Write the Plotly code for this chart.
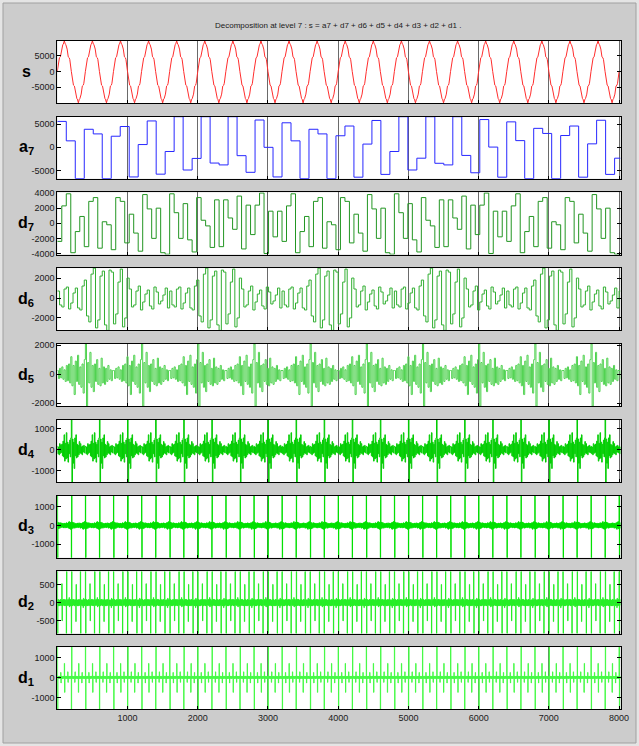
import plotly.graph_objects as go

W, H = 639, 746
X_END = 8020

# ---------------- data ----------------
# s : the same wave shape repeats every 400 samples (offset within period, value)
S_PERIOD_STARTS = [0, 400, 800, 1200, 1600, 2000, 2400, 2800, 3200, 3600, 4000,
                   4400, 4800, 5200, 5600, 6000, 6400, 6800, 7200, 7600, 8000]
S_SHAPE_OFFSET = [0, 22, 30, 44, 60, 78, 86, 100, 114, 122, 140, 156, 170, 178,
                  200, 222, 230, 244, 260, 278, 286, 300, 314, 322, 340, 356, 370, 378]
S_SHAPE_VALUE = [0, 3800, 4400, 4700, 7200, 8600, 8800, 9850, 8800, 8600, 7200, 4700, 4400, 3800,
                 0, -3800, -4400, -4700, -7300, -8700, -8900, -10100, -8900, -8700, -7300, -4700,
                 -4400, -3800]

# a7 : one value per 128-sample block
A7 = [5600, 1400, -6750, 3900, 2900, -6750, 2400, 4500, -6400, 600,
      5700, -5800, -900, 6620, -4900, -2400, 6620, -3400, -3800, 6620,
      -1800, -5400, 5900, 0, -6400,
      5300, 1400, -6750, 3900, 2900, -6750, 2500, 4600, -6450, 700,
      5800, -5850, -900, 6620, -4900, -2350, 6620, -3450, -3800, 6620,
      -1750, -5500, 6000, 50, -6450,
      5500, 1450, -6750, 4100, 3000, -6750, 2550, 4600, -6450, 750,
      5850, -5850, -2350]

# d7 : one value per 64 samples
D7 = [-2400, 2300, 3900, -3900, -1100, 900, -3100, 2900, 3400, -3300,
      200, -200, -3500, 3400, 2900, -2600, 1200, -1300, -3700, 3800,
      1900, -2000, 2000, -3900, -4100, 3900, 1400, -2000, 2600, -2200,
      -3800, 3400, 400, -350, -3200, 3100, -3100, 3100, 700, -800,
      3600, -3400, 2400, -1500, 2400, 4000, -4000, 1600, -1800, 1600,
      -2400, 2300, 3900, -3900, -1100, 900, -3100, 2900, 3400, -3300,
      200, -200, -3500, 3400, 2900, -2600, 1200, -1300, -3700, 3800,
      1900, -2000, 2000, -3900, -4100, 3900, 1400, -2000, 2600, -2200,
      -3800, 3400, 400, -350, -3200, 3100, -3100, 3100, 700, -800,
      3600, -3400, 2400, -1500, 2400, 4000, -4000, 1600, -1800, 1600,
      -2400, 2300, 3900, -3900, -1100, 900, -3100, 2900, 3400, -3300,
      200, -200, -3500, 3400, 2900, -2600, 1200, -1300, -3700, 3800,
      1900, -2000, 2000, -3900, -4100]

# d6 : one repeat (1600 samples), one value per 32 samples
D6_PERIOD = [700, -700, -900, 900, 1100, -1100, -500, 500, 1000, -1000, -1200, 1200,
             1800, -1800, -2400, 2400, 3000, -3000, -2200, 2200, 2700, -2700, -3250, 2800,
             2600, -2600, -1600, 1600, 2900, -2900, -2000, 2000,
             900, -900, -700, 700, 1200, -1200, -400, 400, 800, -800, -1100, 1100,
             600, -600, -300, 300, 1000, -1000]

# d5 : one repeat (800 samples), one value per 16 samples
D5_PERIOD = [250, -300, 400, -250, 500, -350, 300, -500, 600, -450,
             700, -600, 1200, -800, 600, -1400, 900, -500, 1300, -700,
             500, -900, 700, -1300, 1000,
             2080, -2200,
             800, -600, 1500, -900, 600, -1200, 700, -500, 1000, -700,
             400, -800, 1100, -600, 500, -700, 400, -500, 600, -350, 300, -450, 250]

# d4 : one repeat (400 samples), one value per 8 samples
D4_PERIOD = [150, -200, 120, -250, 280, -180, 220, -140, 260, -300,
             400, -350, 700, -550, 300, -450, 800, -400, 350, -600,
             250, -200, 450, -350, 550,
             1415, -1540,
             500, -650, 350, -900, 550, -300, 700, -400, 250, -350,
             200, -250, 380, -170, 280, -200, 130, -250, 170, -120, 200, -160, 120]

# d3 : one repeat (400 samples), one value per 4 samples
D3_PERIOD = [1600, -1730, 180, -150, 110, -180, 150, -110, 80, -150,
             110, -80, 150, -110, 80, -90, 130, -100, 90, -80,
             110, -130, 80, -100, 120, -90, 100, -140, 90, -80,
             100, -120, 150, -110, 90, -100, 130, -90, 110, -150,
             180, -130, 210, -160, 130, -190, 150, -210, 180, -150,
             -1730, 1600, -180, 150, -110, 180, -150, 110, -80, 150,
             -110, 80, -150, 110, -80, 90, -130, 100, -90, 80,
             -110, 130, -80, 100, -120, 90, -100, 140, -90, 80,
             -100, 120, -150, 110, -90, 100, -130, 90, -110, 150,
             -180, 130, -210, 160, -130, 190, -150, 210, -180, 150]

# d2 : one repeat (400 samples), one value per 4 samples
D2_PERIOD = [855, -850, 90, -70, 80, -90, 60, -80, 70, -90,
             80, -60, 90, -70, 60, -80, 520, -500, 70, -90,
             80, -70, 90, -60, 70, -80, 90, -90, 60, -70,
             80, -90, -850, 855, 90, -70, 60, -80, 90, -60,
             70, -80, 140, -120, 80, -70, 90, -90, 60, -80,
             -850, 855, -90, 70, -80, 90, -60, 80, -70, 90,
             -80, 60, -90, 70, -60, 80, -520, 500, -70, 90,
             -80, 70, -90, 60, -70, 80, -90, 90, -60, 70,
             -80, 90, 855, -850, -90, 70, -60, 80, -90, 60,
             -70, 80, -140, 120, -80, 70, -90, 90, -60, 80]

# d1 : one repeat (400 samples), one value per 4 samples
D1_PERIOD = [1515, -1600, 60, -50, 40, -60, 50, -40, 60, -50,
             40, -60, 250, -280, 50, -40, 60, -50, 40, -60,
             50, -40, 60, -50, 40, 700, -750, 60, -40, 50,
             -60, 40, -50, 60, -40, 50, -60, 280, -250, 40,
             -50, 60, -40, 50, -60, 40, -50, 60, -40, 50,
             -1600, 1515, -60, 50, -40, 60, -50, 40, -60, 50,
             -40, 60, -250, 280, -50, 40, -60, 50, -40, 60,
             -50, 40, -60, 50, -40, -750, 700, -60, 40, -50,
             60, -40, 50, -60, 40, -50, 60, -280, 250, -40,
             50, -60, 40, -50, 60, -40, 50, -60, 40, -50]

PANEL_NAMES = ["s", "a<sub>7</sub>", "d<sub>7</sub>", "d<sub>6</sub>", "d<sub>5</sub>",
               "d<sub>4</sub>", "d<sub>3</sub>", "d<sub>2</sub>", "d<sub>1</sub>"]
Y_RANGES = [[-10150, 9900], [-6800, 6660], [-4150, 4100], [-3250, 3000], [-2200, 2080],
            [-1540, 1415], [-1730, 1600], [-850, 860], [-1600, 1515]]
Y_TICKS = [[-5000, 0, 5000], [-5000, 0, 5000], [-4000, -2000, 0, 2000, 4000],
           [-2000, 0, 2000], [-2000, 0, 2000], [-1000, 0, 1000], [-1000, 0, 1000],
           [-500, 0, 500], [-1000, 0, 1000]]
X_TICKS = [1000, 2000, 3000, 4000, 5000, 6000, 7000, 8000]
COLORS = ["rgb(255,45,45)", "rgb(40,40,255)", "rgb(35,150,35)", "rgb(50,175,50)",
          "rgb(80,210,80)", "rgb(0,205,0)", "rgb(0,225,0)", "rgb(40,238,40)", "rgb(70,250,70)"]
TITLE = "Decomposition at level 7 : s = a7 + d7 + d6 + d5 + d4 + d3 + d2 + d1 ."


# ---------------- helpers ----------------
def steps(vals, step):
    xs, ys = [], []
    for i, v in enumerate(vals):
        xs.append(i * step)
        ys.append(v)
    xs.append(min(len(vals) * step, X_END))
    ys.append(vals[-1])
    return xs, ys


def repeated(period_vals, step):
    out = []
    while len(out) * step < X_END:
        out.extend(period_vals)
    n = -(-X_END // step)
    return out[:n]


def s_series():
    xs, ys = [], []
    for p in S_PERIOD_STARTS:
        for off, v in zip(S_SHAPE_OFFSET, S_SHAPE_VALUE):
            if p + off <= X_END:
                xs.append(p + off)
                ys.append(v)
    return xs, ys


series = [
    (s_series(), "linear"),
    (steps(A7, 128), "hv"),
    (steps(D7, 64), "hv"),
    (steps(repeated(D6_PERIOD, 32), 32), "hv"),
    (steps(repeated(D5_PERIOD, 16), 16), "hv"),
    (steps(repeated(D4_PERIOD, 8), 8), "hv"),
    (steps(repeated(D3_PERIOD, 4), 4), "hv"),
    (steps(repeated(D2_PERIOD, 4), 4), "hv"),
    (steps(repeated(D1_PERIOD, 4), 4), "hv"),
]

# ---------------- figure ----------------
TOP0, GAP, PH = 40.7, 75.8, 62.3
XL, XR = 57.3, 620.5
FONT = "Liberation Sans, Arial, sans-serif"

fig = go.Figure()
layout = dict(width=W, height=H, autosize=False,
              margin=dict(l=0, r=0, t=0, b=0, pad=0),
              paper_bgcolor="#cccccc", plot_bgcolor="white",
              showlegend=False, annotations=[], shapes=[])

for i, ((xs, ys), shape) in enumerate(series):
    k = "" if i == 0 else str(i + 1)
    top = TOP0 + i * GAP
    bot = top + PH
    fig.add_trace(go.Scatter(x=xs, y=ys, mode="lines",
                             line=dict(color=COLORS[i], width=1, shape=shape),
                             xaxis="x" + k, yaxis="y" + k, hoverinfo="skip"))
    layout["xaxis" + k] = dict(
        domain=[XL / W, XR / W], anchor="y" + k, range=[0, X_END], automargin=False,
        showline=True, linecolor="black", linewidth=1, mirror=True,
        showgrid=True, gridcolor="#6a6a6a", gridwidth=1, zeroline=False,
        tickvals=X_TICKS, ticktext=[str(v) for v in X_TICKS],
        ticks="inside", ticklen=3, tickcolor="black",
        showticklabels=(i == 8),
        tickfont=dict(family=FONT, size=9, color="#1a1a1a"))
    layout["yaxis" + k] = dict(
        domain=[1 - bot / H, 1 - top / H], anchor="x" + k, range=Y_RANGES[i],
        automargin=False,
        showline=True, linecolor="black", linewidth=1, mirror="ticks",
        showgrid=False, zeroline=False,
        tickvals=Y_TICKS[i], ticktext=[str(v) for v in Y_TICKS[i]],
        ticks="inside", ticklen=4, tickcolor="black",
        tickfont=dict(family=FONT, size=9, color="#1a1a1a"))
    layout["annotations"].append(dict(
        text="<b>" + PANEL_NAMES[i] + "</b>", xref="paper", yref="paper",
        x=26 / W, y=1 - (top + PH / 2) / H, xanchor="center", yanchor="middle",
        showarrow=False, font=dict(family=FONT, size=16, color="black")))

layout["annotations"].append(dict(
    text=TITLE, xref="paper", yref="paper", x=338 / W, y=1 - 25 / H,
    xanchor="center", yanchor="middle", showarrow=False,
    font=dict(family=FONT, size=8, color="#1a1a1a")))

# window edges of the original screenshot (lighter strips + frame line)
EDGE = "#e4e4e4"
layout["shapes"] += [
    dict(type="rect", xref="paper", yref="paper", x0=0, x1=1, y0=1 - 3 / H, y1=1,
         fillcolor=EDGE, line=dict(width=0), layer="below"),
    dict(type="rect", xref="paper", yref="paper", x0=0, x1=3 / W, y0=0, y1=1,
         fillcolor=EDGE, line=dict(width=0), layer="below"),
    dict(type="rect", xref="paper", yref="paper", x0=0, x1=1, y0=0, y1=3 / H,
         fillcolor=EDGE, line=dict(width=0), layer="below"),
    dict(type="rect", xref="paper", yref="paper", x0=1 - 3 / W, x1=1, y0=0, y1=1,
         fillcolor=EDGE, line=dict(width=0), layer="below"),
    dict(type="rect", xref="paper", yref="paper", x0=3 / W, x1=1 - 3 / W,
         y0=3 / H, y1=1 - 3 / H, line=dict(color="#a0a0a0", width=1), layer="below"),
]

fig.update_layout(**layout)
fig.write_html("out.html",
               config={"displayModeBar": False},
               post_script="document.body.style.margin='0';"
                           "document.body.style.background='#cccccc';")
